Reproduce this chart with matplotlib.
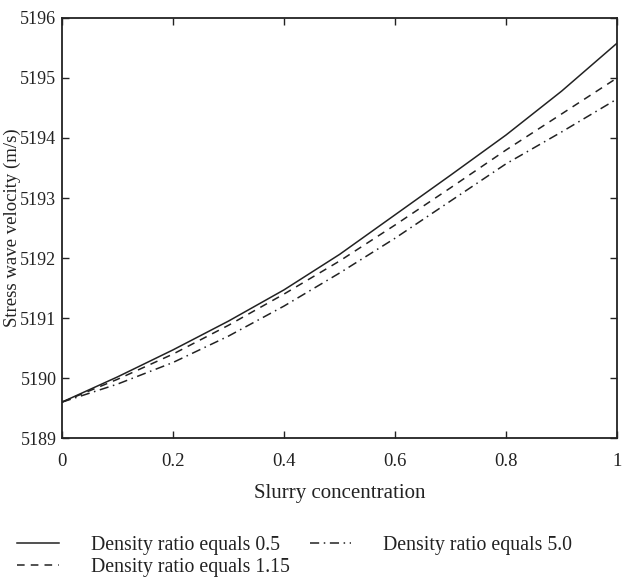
import matplotlib.pyplot as plt
import numpy as np

plt.rcParams['font.family'] = ['Liberation Serif', 'DejaVu Serif']

# slurry concentration
conc = [0.0, 0.1, 0.2, 0.3, 0.4, 0.5, 0.6, 0.7, 0.8, 0.9, 1.0]

# stress wave velocity (m/s) for each density ratio
v_05 = [5189.60, 5190.02, 5190.47, 5190.95, 5191.47, 5192.06, 5192.72, 5193.38, 5194.05, 5194.78, 5195.58]
v_115 = [5189.60, 5189.98, 5190.40, 5190.88, 5191.40, 5191.95, 5192.55, 5193.17, 5193.80, 5194.40, 5195.00]
v_50 = [5189.60, 5189.90, 5190.26, 5190.70, 5191.20, 5191.75, 5192.33, 5192.95, 5193.57, 5194.10, 5194.65]

labels = ['Density ratio equals 0.5', 'Density ratio equals 1.15', 'Density ratio equals 5.0']

fig = plt.figure(figsize=(6.23, 5.78), dpi=100)
ax = fig.add_axes([0.0995, 0.242, 0.891, 0.727])

ax.plot(conc, v_05, color='#222222', linestyle='-', linewidth=1.1, label=labels[0])
ax.plot(conc, v_115, color='#222222', linestyle=(0, (5, 4)), linewidth=1.1, label=labels[1])
ax.plot(conc, v_50, color='#222222', linestyle=(0, (6, 3, 1, 3)), linewidth=1.1, label=labels[2])

ax.set_xlim(0, 1)
ax.set_ylim(5189, 5196)
ax.set_xticks([0, 0.2, 0.4, 0.6, 0.8, 1])
ax.set_xticklabels(['0', '0.2', '0.4', '0.6', '0.8', '1'])
ax.set_yticks(range(5189, 5197))
ax.tick_params(direction='in', top=True, right=True, length=5, width=1,
               labelsize=13, colors='#222222')
ax.tick_params(axis='x', labelsize=13.5, pad=11)
ax.tick_params(axis='y', pad=4)
for s in ax.spines.values():
    s.set_linewidth(1.3)
    s.set_color('#222222')

ax.set_xlabel('Slurry concentration', fontsize=15, color='#222222', labelpad=10)
ax.set_ylabel('Stress wave velocity (m/s)', fontsize=13.5, color='#222222')
ax.yaxis.set_label_coords(-0.073, 0.5)

fig.legend(loc='upper left', bbox_to_anchor=(0.028, 0.073), ncol=2, frameon=False,
           fontsize=14.3, handlelength=2.1, handletextpad=1.6, columnspacing=1.0,
           labelspacing=0.15, borderpad=0, borderaxespad=0, labelcolor='#222222')

plt.savefig('out.png', dpi=100)
plt.close()
